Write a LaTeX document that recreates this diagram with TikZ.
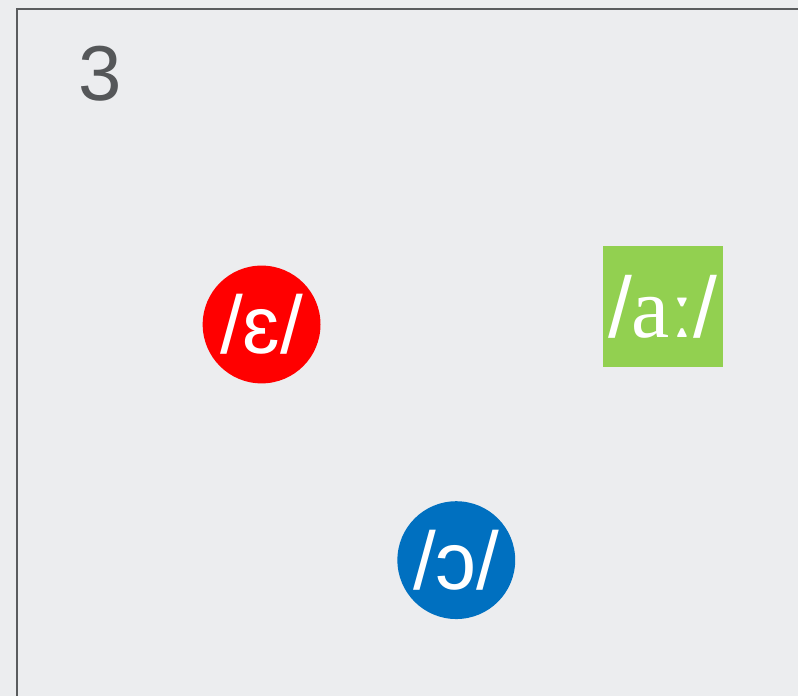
\documentclass[tikz,border=0pt]{standalone}
\usepackage{fontspec}
\setmainfont{Liberation Sans}
\newfontfamily\ipaserif{Liberation Serif}
\definecolor{slidebg}{HTML}{ECEDEF}
\definecolor{framegray}{HTML}{5A5C5E}
\definecolor{numgray}{HTML}{555759}
\definecolor{epsred}{HTML}{FF0000}
\definecolor{aagreen}{HTML}{92D050}
\definecolor{oblue}{HTML}{0070C0}
\begin{document}
\begin{tikzpicture}[x=1pt, y=-1pt, every node/.style={text=white, inner sep=0pt, font=\fontsize{82}{82}\selectfont}, sound/.style={circle, minimum size=118pt}]
  \fill[slidebg] (0,0) rectangle (799,697);
  \draw[framegray, line width=2.5pt] (17,697) -- (17,9) -- (799,9);
  \node[text=numgray, font=\fontsize{78}{78}\selectfont] (num) at (100,74) {3};
  \node[sound, fill=epsred] (eps) at (262,325) {/ɛ/};
  \node[fill=aagreen, minimum size=121pt, font=\fontsize{86}{86}\selectfont] (aa) at (664,307) {/{\ipaserif aː}/};
  \node[sound, fill=oblue] (oo) at (457,561) {/ɔ/};
\end{tikzpicture}
\end{document}
